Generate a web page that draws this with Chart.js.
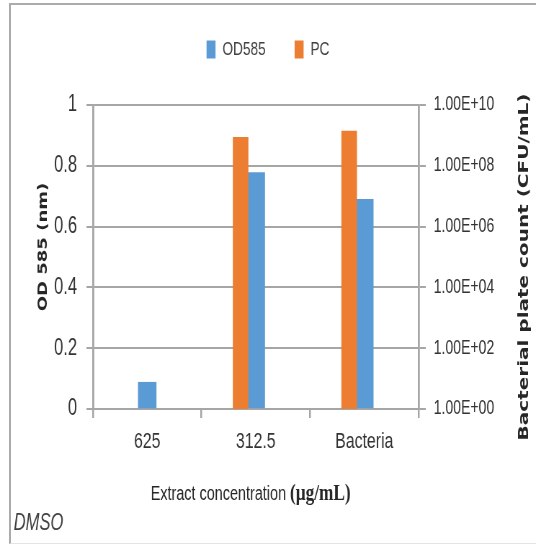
<!doctype html>
<html lang="en">
<head>
<meta charset="utf-8">
<title>OD585 and PC - DMSO</title>
<script src="https://cdn.jsdelivr.net/npm/chart.js@4.4.1/dist/chart.umd.min.js"></script>
<style>
  body { margin: 0; background: #fff; overflow: hidden; }
  .frame {
    position: absolute; left: 9px; top: 3px; width: 600px; height: 538px;
    border: 2px solid #ababab; border-bottom: 1px solid #e4e4e4;
  }
  /* the source picture is squeezed sideways, so the canvas is drawn wide and narrowed */
  #chart { position: absolute; left: 0; top: 0; transform: scaleX(0.7204); transform-origin: 0 0; }
</style>
</head>
<body>
<div class="frame"></div>
<canvas id="chart" width="744" height="545"></canvas>
<script>
const categories = ['625', '312.5', 'Bacteria'];
const od585 = [0.088, 0.778, 0.69];
const pc = [null, 8.7e8, 1.4e9];
const gapSeries = [null, null, null];
const leftTicks = [0, 0.2, 0.4, 0.6, 0.8, 1];
const leftTickLabels = ['0', '0.2', '0.4', '0.6', '0.8', '1'];
const rightTicks = [1, 1e2, 1e4, 1e6, 1e8, 1e10];
const rightTickLabels = ['1.00E+00', '1.00E+02', '1.00E+04', '1.00E+06', '1.00E+08', '1.00E+10'];

const grey = '#a6a6a6';
Chart.defaults.font.family = '"Liberation Sans", Arial, sans-serif';

// legend sits high, leave room under it
const legendRoom = {
  id: 'legendRoom',
  beforeInit(chart) {
    const fit = chart.legend.fit;
    chart.legend.fit = function () {
      fit.bind(chart.legend)();
      this.height += 36;
    };
  }
};

// titles and the DMSO note
const axisTexts = {
  id: 'axisTexts',
  afterDraw(chart) {
    const ctx = chart.ctx;
    const a = chart.chartArea;
    const midY = (a.top + a.bottom) / 2;
    ctx.save();
    ctx.fillStyle = '#262626';
    ctx.textAlign = 'center';
    ctx.textBaseline = 'middle';

    ctx.save();
    ctx.translate(60, midY - 10);
    ctx.rotate(-Math.PI / 2);
    ctx.font = 'bold 18px "DejaVu Sans"';
    ctx.fillText('OD 585 (nm)', 0, 0);
    ctx.restore();

    ctx.save();
    ctx.translate(728, midY + 10);
    ctx.rotate(-Math.PI / 2);
    ctx.font = 'bold 20px "DejaVu Sans"';
    ctx.fillText('Bacterial plate count (CFU/mL)', 0, 0);
    ctx.restore();

    const part1 = 'Extract concentration ';
    const part2 = '(\u03bcg/mL)';
    ctx.textAlign = 'left';
    ctx.textBaseline = 'alphabetic';
    ctx.font = '20px "Liberation Sans"';
    const w1 = ctx.measureText(part1).width;
    ctx.font = 'bold 24px "Liberation Serif"';
    const w2 = ctx.measureText(part2).width;
    const x0 = 348 - (w1 + w2) / 2;
    ctx.font = '20px "Liberation Sans"';
    ctx.fillText(part1, x0, 500);
    ctx.font = 'bold 24px "Liberation Serif"';
    ctx.fillText(part2, x0 + w1, 500);

    ctx.fillStyle = '#404040';
    ctx.font = 'italic 23px "Liberation Sans"';
    ctx.fillText('DMSO', 19, 530);
    ctx.restore();
  }
};

new Chart(document.getElementById('chart'), {
  type: 'bar',
  data: {
    labels: categories,
    datasets: [
      { label: 'PC', data: pc, yAxisID: 'y1', backgroundColor: '#ED7D31', barThickness: 21 },
      { label: 'OD585', data: od585, yAxisID: 'y', backgroundColor: '#5B9BD5', barThickness: 25 },
      { label: '', data: gapSeries, yAxisID: 'y', backgroundColor: 'rgba(0,0,0,0)', barThickness: 20 }
    ]
  },
  options: {
    responsive: false,
    animation: false,
    devicePixelRatio: 1,
    layout: { padding: 0 },
    plugins: {
      tooltip: { enabled: false },
      legend: {
        position: 'top',
        reverse: true,
        labels: {
          filter: item => item.text !== '',
          font: { size: 19 },
          color: '#404040',
          boxWidth: 12.5,
          boxHeight: 18,
          padding: 40
        }
      }
    },
    scales: {
      x: {
        offset: true,
        grid: { offset: true, drawOnChartArea: false, tickLength: 9, color: grey, lineWidth: 2.5 },
        border: { color: grey, width: 2 },
        ticks: { font: { size: 22 }, color: '#333', padding: 11 },
        afterFit(s) { s.height = 136; }
      },
      y: {
        position: 'left',
        min: 0,
        max: 1,
        afterBuildTicks(s) { s.ticks = leftTicks.map(v => ({ value: v })); },
        grid: { color: grey, lineWidth: 2, tickLength: 9 },
        border: { color: grey, width: 2.8 },
        ticks: { font: { size: 23 }, color: '#333', padding: 13, callback: (v, i) => leftTickLabels[i] },
        afterFit(s) { s.width = 129; s.paddingTop = 105; }
      },
      y1: {
        type: 'logarithmic',
        position: 'right',
        min: 1,
        max: 1e10,
        afterBuildTicks(s) { s.ticks = rightTicks.map(v => ({ value: v })); },
        grid: { drawOnChartArea: false, color: grey, lineWidth: 2, tickLength: 10 },
        border: { color: grey, width: 2.8 },
        ticks: { font: { size: 19.5 }, color: '#333', padding: 11, callback: (v, i) => rightTickLabels[i] },
        afterFit(s) { s.width = 163; }
      }
    }
  },
  plugins: [legendRoom, axisTexts]
});
</script>
</body>
</html>
